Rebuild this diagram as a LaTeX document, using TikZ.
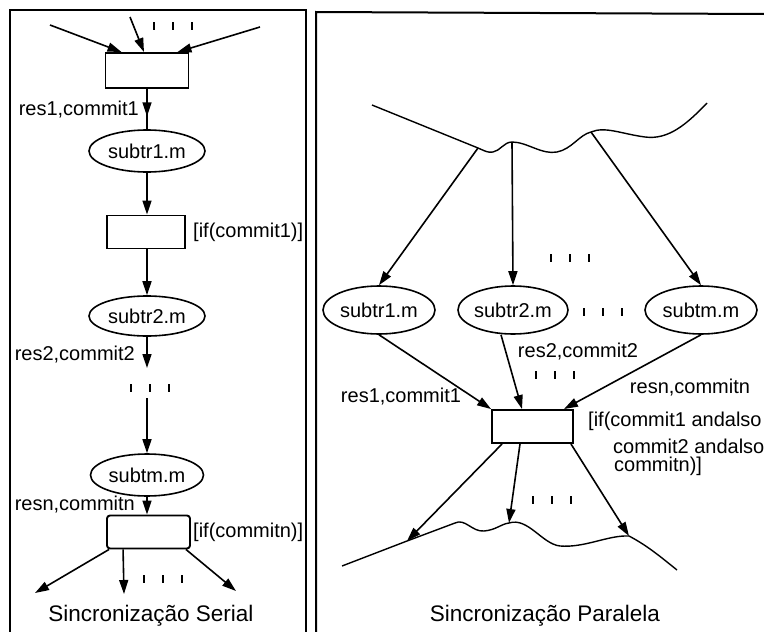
\documentclass[tikz,border=0pt]{standalone}
\usepackage{fontspec}
\setmainfont{Liberation Sans}
\usetikzlibrary{arrows.meta,shapes.geometric,decorations.markings}

\tikzset{
  every node/.style={inner sep=0pt, font=\fontsize{20}{24}\selectfont},
  place/.style={draw, ellipse, line width=1.6pt, minimum width=116pt, minimum height=42pt},
  trans/.style={draw, rectangle, line width=1.9pt, minimum width=80pt, minimum height=34pt},
  arc/.style={line width=1.6pt, -{Triangle[length=14pt,width=9pt]}},
  midarc/.style={line width=1.6pt, postaction={decorate},
    decoration={markings, mark=at position #1 with {\arrow{Triangle[length=14pt,width=9pt]}}}},
  wave/.style={line width=1.4pt, line join=round},
  frame/.style={line width=2pt},
  caption/.style={font=\fontsize{22.5}{27}\selectfont, anchor=base},
  gapmarks/.pic={\foreach \dx in {-19,0,19} \draw[line width=2pt] (\dx,-4) -- (\dx,4);}
}

\begin{document}
\begin{tikzpicture}[x=1pt,y=-1pt]
\useasboundingbox (0,0) rectangle (764,632);

% panel frames
\draw[frame] (10,632) -- (10,10) -- (306,10) -- (306,632);
\draw[frame] (316,632) -- (316,12) -- (764,14);

% ---------- serial synchronisation ----------
\coordinate (inA) at (50,25);
\coordinate (inB) at (130,17);
\coordinate (inC) at (260,27);
\node[trans, minimum width=83pt, minimum height=35pt] (t1) at (147,70.5) {};
\draw[arc] (inA) -- ([xshift=17pt]t1.north west);
\draw[arc] (inB) -- ([xshift=-3pt]t1.north);
\draw[arc] (inC) -- ([xshift=-12pt]t1.north east);
\pic at (173,26) {gapmarks};

\node[place] (p1) at (147,151) {subtr1.m};
\draw[midarc=0.68] (t1.south) -- (p1.north);
\node[anchor=east] (l1) at (139,110) {res1,commit1};

\node[trans, minimum width=78pt, minimum height=33pt] (t2) at (146,232) {};
\draw[arc] (p1.south) -- (t2.north -| p1.south);
\node[anchor=west] (g1) at (193,232) {[if(commit1)]};

\node[place, minimum height=40pt] (p2) at (147,316) {subtr2.m};
\draw[arc] (t2.south -| p2.north) -- (p2.north);

\coordinate (c2) at (147,368);
\draw[arc] (p2.south) -- (c2);
\node[anchor=east] (l2) at (135,355) {res2,commit2};
\pic at (150,388) {gapmarks};

\node[place, minimum width=113pt] (p3) at (147,475) {subtm.m};
\coordinate (c3) at (147,398);
\draw[arc] (c3) -- (p3.north);

\node[trans, rounded corners=3pt, minimum width=83pt, minimum height=33pt] (t3) at (148.5,532) {};
\draw[arc] (p3.south) -- (t3.north -| p3.south);
\node[anchor=east] (l3) at (135,505) {resn,commitn};
\node[anchor=west] (g3) at (193,532) {[if(commitn)]};

\coordinate (o1) at (35,593);
\coordinate (o2) at (124,594);
\coordinate (o3) at (236,591);
\draw[arc] ([xshift=3pt]t3.south west) -- (o1);
\draw[arc] ([xshift=17pt]t3.south west) -- (o2);
\draw[arc] ([xshift=-5pt]t3.south east) -- (o3);
\pic at (163,579) {gapmarks};

\node[caption] (cap1) at (151,621) {Sincronização Serial};

% ---------- parallel synchronisation ----------
\coordinate (w1) at (478,148);
\coordinate (w2) at (512,142);
\coordinate (w3) at (591,132);
\draw[wave] (372,105) -- (w1)
  .. controls (485,151) and (488,153) .. (493,152)
  .. controls (500,151) and (504,142) .. (w2)
  .. controls (527,142) and (542,155) .. (557,152)
  .. controls (572,149) and (579,135) .. (w3)
  .. controls (605,126) and (622,134) .. (645,137)
  .. controls (668,140) and (686,125) .. (707,103);

\node[place, minimum width=112pt, minimum height=48pt] (r1) at (379,310) {subtr1.m};
\node[place, minimum width=110pt, minimum height=48pt] (r2) at (513,310) {subtr2.m};
\node[place, minimum width=112pt, minimum height=48pt] (r3) at (701,310) {subtm.m};
\draw[arc] (w1) -- (r1.north);
\draw[arc] (w2) -- (r2.north);
\draw[arc] (w3) -- (r3.north);
\pic at (570,258) {gapmarks};
\pic at (603,312) {gapmarks};

\node[trans, minimum width=81pt, minimum height=33pt] (T) at (532.5,426.5) {};
\draw[arc] (r1.south) -- (T.north west);
\draw[arc] ([xshift=-12pt]r2.south) -- ([xshift=-10.5pt]T.north);
\draw[arc] (r3.south) -- ([xshift=-10pt]T.north east);
\node (m2) at (578,352) {res2,commit2};
\node (m1) at (401,397) {res1,commit1};
\node (mn) at (690,388) {resn,commitn};
\pic at (555,375) {gapmarks};

\node[anchor=west] (cond1) at (588,421) {[if(commit1 andalso};
\node[anchor=west] (cond2) at (613,446) {commit2 andalso};
\node[anchor=west] (cond3) at (614,466) {commitn)]};

\coordinate (b1) at (407,541);
\coordinate (b2) at (509,523);
\coordinate (b3) at (629,536);
\draw[arc] ([xshift=11pt]T.south west) -- (b1);
\draw[arc] ([xshift=-12.5pt]T.south) -- (b2);
\draw[arc] ([xshift=-3pt]T.south east) -- (b3);
\draw[wave] (342,566) -- (b1) -- (455,523)
  .. controls (465,518) and (472,532) .. (484,531)
  .. controls (496,530) and (501,524) .. (b2)
  .. controls (528,517) and (542,544) .. (560,546)
  .. controls (585,548) and (608,535) .. (b3)
  .. controls (648,546) and (662,558) .. (677,570);
\pic at (552,500) {gapmarks};

\node[caption] (cap2) at (545,621) {Sincronização Paralela};
\end{tikzpicture}
\end{document}
